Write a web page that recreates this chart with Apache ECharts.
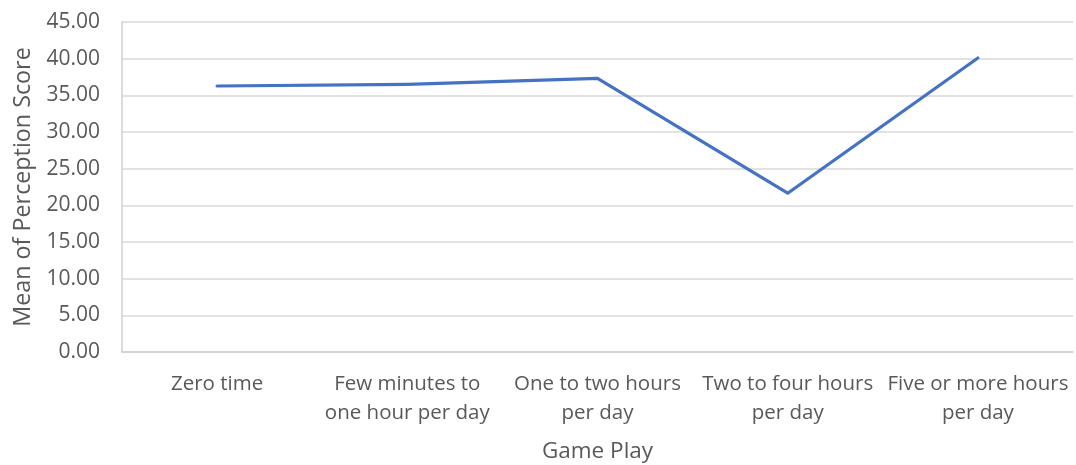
<!DOCTYPE html>
<html>
<head>
<meta charset="utf-8">
<script src="https://cdn.jsdelivr.net/npm/echarts@6/dist/echarts.min.js"></script>
<style>
  html, body { margin: 0; padding: 0; background: #ffffff; }
  #chart { width: 1076px; height: 465px; }
</style>
</head>
<body>
<div id="chart"></div>
<script>
// Game play time categories (x axis)
const categories = [
  'Zero time',
  'Few minutes to\none hour per day',
  'One to two hours\nper day',
  'Two to four hours\nper day',
  'Five or more hours\nper day'
];
// Mean perception score for each category
const meanScores = [36.27, 36.50, 37.30, 21.65, 40.10];
// Y axis range
const yMin = 0;
const yMax = 45;
const yStep = 5;

const textColor = '#595959';
const fontFamily = '"Open Sans", "Noto Sans", sans-serif';

const chart = echarts.init(document.getElementById('chart'), null, { renderer: 'canvas' });
chart.setOption({
  animation: false,
  grid: { left: 122, right: 3, top: 22, bottom: 113, containLabel: false, outerBoundsMode: 'none' },
  xAxis: {
    type: 'category',
    data: categories,
    boundaryGap: true,
    name: 'Game Play',
    nameLocation: 'middle',
    nameGap: 88,
    nameTextStyle: { color: textColor, fontSize: 22.5, fontFamily: fontFamily },
    axisLine: { show: true, lineStyle: { color: '#d0d0d0', width: 1.5 } },
    axisTick: { show: false },
    axisLabel: {
      color: textColor, fontSize: 20.5, fontFamily: fontFamily,
      margin: 18, lineHeight: 29, interval: 0
    },
    splitLine: { show: false }
  },
  yAxis: {
    type: 'value',
    min: yMin, max: yMax, interval: yStep,
    name: 'Mean of Perception Score',
    nameLocation: 'middle',
    nameGap: 87,
    nameTextStyle: { color: textColor, fontSize: 23.3, fontFamily: fontFamily },
    axisLine: { show: true, lineStyle: { color: '#d0d0d0', width: 1.5 } },
    axisTick: { show: false },
    axisLabel: {
      color: textColor, fontSize: 21, fontFamily: fontFamily, margin: 22,
      formatter: v => v.toFixed(2)
    },
    splitLine: { show: true, lineStyle: { color: '#d9d9d9', width: 1.5 } }
  },
  series: [{
    type: 'line',
    data: meanScores,
    showSymbol: false,
    symbol: 'none',
    lineStyle: { color: '#4472C4', width: 3.2, cap: 'round', join: 'round' },
    itemStyle: { color: '#4472C4' }
  }]
});
</script>
</body>
</html>
